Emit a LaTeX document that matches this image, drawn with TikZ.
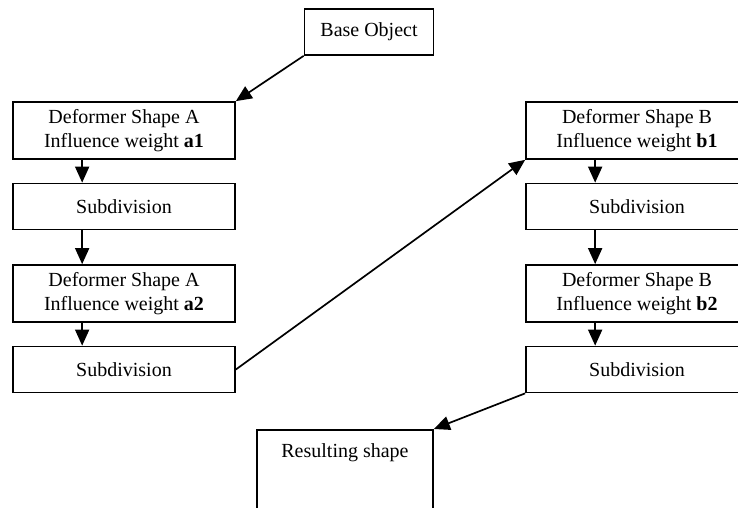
\documentclass[tikz,border=0pt]{standalone}
\usepackage{fontspec}
\setmainfont{Liberation Serif}
\usepackage{tikz}
\usetikzlibrary{arrows.meta}
\tikzstyle{deform} = [rectangle, minimum width=111pt, minimum height=28.5pt, text centered, align=center, draw=black, line width=0.85pt]
\tikzstyle{subdiv} = [rectangle, minimum width=111pt, minimum height=23pt, text centered, draw=black, line width=0.85pt]
\tikzstyle{objbox} = [rectangle, minimum width=64.5pt, minimum height=23pt, text centered, draw=black, line width=0.85pt]
\tikzstyle{resbox} = [rectangle, minimum width=88pt, inner ysep=7pt, text depth=30pt, text centered, draw=black, line width=0.85pt]
\tikzstyle{arrow} = [line width=0.85pt, -{Triangle[length=8pt,width=7pt]}]

\begin{document}
\begin{tikzpicture}[x=0.5pt, y=-0.5pt, node distance=38pt, font=\fontsize{10pt}{12pt}\selectfont]
\useasboundingbox (0,0) rectangle (738,508);

\node (base) [objbox] at (369,32) {Base Object};

% left column
\node (defa1) [deform] at (124,130.5) {Deformer Shape A\\Influence weight \textbf{a1}};
\node (suba1) [subdiv, below of=defa1] {Subdivision};
\node (defa2) [deform, below of=suba1, yshift=-5.5pt] {Deformer Shape A\\Influence weight \textbf{a2}};
\node (suba2) [subdiv, below of=defa2] {Subdivision};

% right column
\node (defb1) [deform] at (637,130.5) {Deformer Shape B\\Influence weight \textbf{b1}};
\node (subb1) [subdiv, below of=defb1] {Subdivision};
\node (defb2) [deform, below of=subb1, yshift=-5.5pt] {Deformer Shape B\\Influence weight \textbf{b2}};
\node (subb2) [subdiv, below of=defb2] {Subdivision};

\node (result) [resbox, anchor=north] at (345,429) {Resulting shape};

\draw [arrow] (base.south west) -- (defa1.north east);
\draw [arrow] ([xshift=35pt]defa1.south west) -- ([xshift=35pt]suba1.north west);
\draw [arrow] ([xshift=35pt]suba1.south west) -- ([xshift=35pt]defa2.north west);
\draw [arrow] ([xshift=35pt]defa2.south west) -- ([xshift=35pt]suba2.north west);
\draw [arrow] (suba2.east) -- (defb1.south west);
\draw [arrow] ([xshift=35pt]defb1.south west) -- ([xshift=35pt]subb1.north west);
\draw [arrow] ([xshift=35pt]subb1.south west) -- ([xshift=35pt]defb2.north west);
\draw [arrow] ([xshift=35pt]defb2.south west) -- ([xshift=35pt]subb2.north west);
\draw [arrow] (subb2.south west) -- (result.north east);

\end{tikzpicture}
\end{document}
